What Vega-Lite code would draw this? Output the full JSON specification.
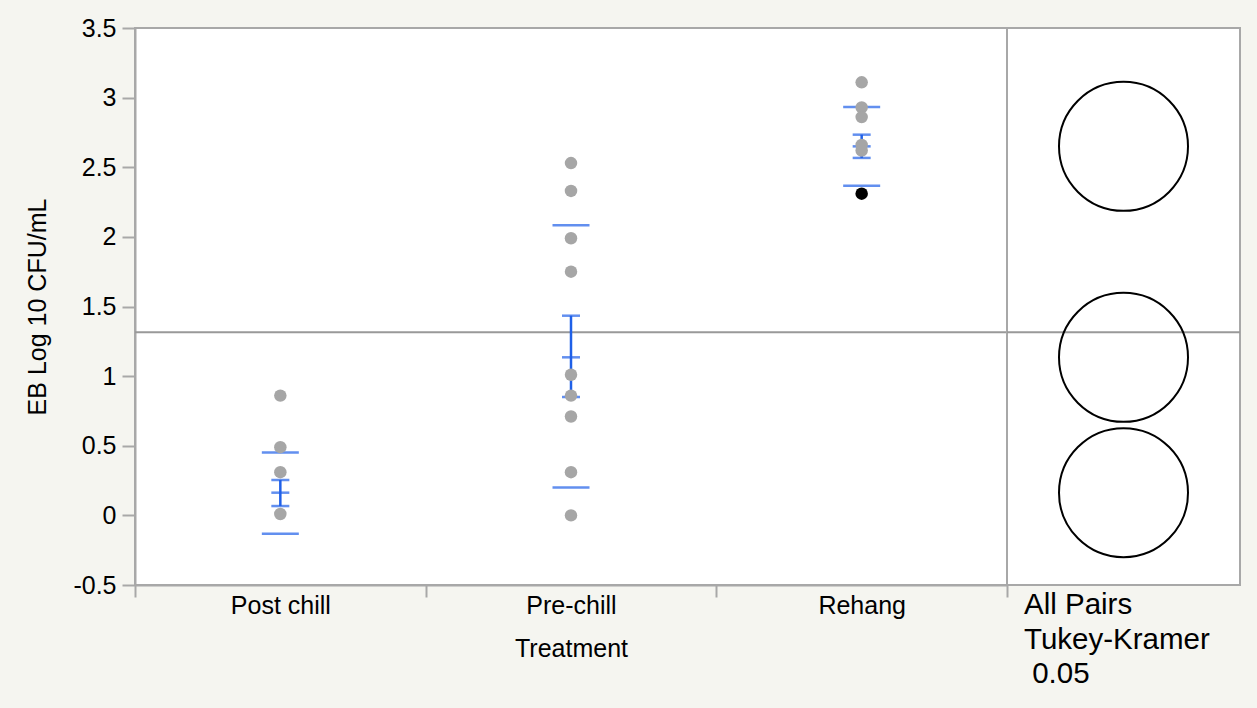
{
  "$schema": "https://vega.github.io/schema/vega-lite/v6.json",
  "background": "#f5f5f0",
  "padding": {"left": 24, "top": 15, "right": 17, "bottom": 20},
  "bounds": "flush",
  "spacing": 0,
  "datasets": {
    "points": [
      {"Treatment": "Post chill", "value": 0.86, "selected": "no"},
      {"Treatment": "Post chill", "value": 0.49, "selected": "no"},
      {"Treatment": "Post chill", "value": 0.31, "selected": "no"},
      {"Treatment": "Post chill", "value": 0.01, "selected": "no"},
      {"Treatment": "Pre-chill", "value": 2.53, "selected": "no"},
      {"Treatment": "Pre-chill", "value": 2.33, "selected": "no"},
      {"Treatment": "Pre-chill", "value": 1.99, "selected": "no"},
      {"Treatment": "Pre-chill", "value": 1.75, "selected": "no"},
      {"Treatment": "Pre-chill", "value": 1.01, "selected": "no"},
      {"Treatment": "Pre-chill", "value": 0.86, "selected": "no"},
      {"Treatment": "Pre-chill", "value": 0.71, "selected": "no"},
      {"Treatment": "Pre-chill", "value": 0.31, "selected": "no"},
      {"Treatment": "Pre-chill", "value": 0.0, "selected": "no"},
      {"Treatment": "Rehang", "value": 3.11, "selected": "no"},
      {"Treatment": "Rehang", "value": 2.93, "selected": "no"},
      {"Treatment": "Rehang", "value": 2.86, "selected": "no"},
      {"Treatment": "Rehang", "value": 2.66, "selected": "no"},
      {"Treatment": "Rehang", "value": 2.62, "selected": "no"},
      {"Treatment": "Rehang", "value": 2.31, "selected": "yes"}
    ],
    "summary": [
      {"Treatment": "Post chill", "mean": 0.163, "ciLow": 0.067, "ciHigh": 0.254, "sdLow": -0.132, "sdHigh": 0.452},
      {"Treatment": "Pre-chill", "mean": 1.135, "ciLow": 0.85, "ciHigh": 1.434, "sdLow": 0.2, "sdHigh": 2.083},
      {"Treatment": "Rehang", "mean": 2.65, "ciLow": 2.567, "ciHigh": 2.734, "sdLow": 2.368, "sdHigh": 2.933}
    ],
    "grand": [{"grandMean": 1.315}]
  },
  "resolve": {"scale": {"y": "shared"}},
  "config": {
    "font": "Liberation Sans",
    "view": {"stroke": "#a8a8a8", "strokeWidth": 2, "fill": "white"},
    "axis": {
      "grid": false,
      "domainColor": "#a8a8a8",
      "domainWidth": 2,
      "tickColor": "#a8a8a8",
      "tickWidth": 2,
      "labelFont": "Liberation Sans",
      "labelFontSize": 25,
      "labelColor": "black",
      "titleFont": "Liberation Sans",
      "titleFontSize": 25,
      "titleFontWeight": "normal",
      "titleColor": "black"
    }
  },
  "hconcat": [
    {
      "width": 872,
      "height": 557,
      "layer": [
        {
          "data": {"name": "grand"},
          "mark": {"type": "rule", "color": "#999999", "strokeWidth": 2},
          "encoding": {
            "y": {
              "field": "grandMean",
              "type": "quantitative",
              "title": "EB Log 10 CFU/mL",
              "scale": {"domain": [-0.5, 3.5], "nice": false, "zero": false},
              "axis": {
                "title": "EB Log 10 CFU/mL",
                "values": [-0.5, 0, 0.5, 1, 1.5, 2, 2.5, 3, 3.5],
                "format": "~g",
                "labelExpr": "replace(datum.label, '\u2212', '-')",
                "tickSize": 13,
                "labelPadding": 6,
                "titlePadding": 22
              }
            }
          }
        },
        {
          "data": {"name": "summary"},
          "mark": {"type": "tick", "color": "#1f60e8", "size": 37, "thickness": 2.5},
          "encoding": {
            "x": {"field": "Treatment", "type": "nominal", "title": "Treatment"},
            "y": {"field": "sdLow", "type": "quantitative", "title": "EB Log 10 CFU/mL"}
          }
        },
        {
          "data": {"name": "summary"},
          "mark": {"type": "tick", "color": "#1f60e8", "size": 37, "thickness": 2.5},
          "encoding": {
            "x": {"field": "Treatment", "type": "nominal", "title": "Treatment"},
            "y": {"field": "sdHigh", "type": "quantitative", "title": "EB Log 10 CFU/mL"}
          }
        },
        {
          "data": {"name": "summary"},
          "mark": {"type": "rule", "color": "#1f60e8", "strokeWidth": 2.5},
          "encoding": {
            "x": {"field": "Treatment", "type": "nominal", "title": "Treatment"},
            "y": {"field": "ciLow", "type": "quantitative", "title": "EB Log 10 CFU/mL"},
            "y2": {"field": "ciHigh"}
          }
        },
        {
          "data": {"name": "summary"},
          "mark": {"type": "tick", "color": "#1f60e8", "size": 18, "thickness": 2.5},
          "encoding": {
            "x": {"field": "Treatment", "type": "nominal", "title": "Treatment"},
            "y": {"field": "ciLow", "type": "quantitative", "title": "EB Log 10 CFU/mL"}
          }
        },
        {
          "data": {"name": "summary"},
          "mark": {"type": "tick", "color": "#1f60e8", "size": 18, "thickness": 2.5},
          "encoding": {
            "x": {"field": "Treatment", "type": "nominal", "title": "Treatment"},
            "y": {"field": "mean", "type": "quantitative", "title": "EB Log 10 CFU/mL"}
          }
        },
        {
          "data": {"name": "summary"},
          "mark": {"type": "tick", "color": "#1f60e8", "size": 18, "thickness": 2.5},
          "encoding": {
            "x": {"field": "Treatment", "type": "nominal", "title": "Treatment"},
            "y": {"field": "ciHigh", "type": "quantitative", "title": "EB Log 10 CFU/mL"}
          }
        },
        {
          "data": {"name": "points"},
          "mark": {"type": "point", "filled": true, "opacity": 1, "size": 156},
          "encoding": {
            "x": {
              "field": "Treatment",
              "type": "nominal",
              "title": "Treatment",
              "sort": ["Post chill", "Pre-chill", "Rehang"],
              "scale": {"paddingInner": 0, "paddingOuter": 0},
              "axis": {
                "title": "Treatment",
                "labelAngle": 0,
                "labelAlign": "center",
                "labelBaseline": "top",
                "tickBand": "extent",
                "tickExtra": false,
                "tickSize": 12,
                "labelPadding": -4,
                "titlePadding": 18
              }
            },
            "y": {"field": "value", "type": "quantitative", "title": "EB Log 10 CFU/mL"},
            "color": {
              "field": "selected",
              "type": "nominal",
              "scale": {"domain": ["no", "yes"], "range": ["#a6a6a6", "black"]},
              "legend": null
            }
          }
        }
      ]
    },
    {
      "width": 233,
      "height": 557,
      "title": {
        "text": ["All Pairs", "Tukey-Kramer", "\u200b\u00a00.05"],
        "orient": "bottom",
        "anchor": "start",
        "font": "Liberation Sans",
        "fontSize": 29.5,
        "fontWeight": "normal",
        "color": "black",
        "lineHeight": 34.5,
        "offset": 6,
        "dx": 18
      },
      "layer": [
        {
          "data": {"name": "grand"},
          "mark": {"type": "rule", "color": "#999999", "strokeWidth": 2},
          "encoding": {
            "y": {"field": "grandMean", "type": "quantitative", "axis": null}
          }
        },
        {
          "data": {"name": "summary"},
          "mark": {"type": "point", "shape": "circle", "filled": false, "color": "black", "strokeWidth": 2, "opacity": 1, "size": 16641},
          "encoding": {
            "y": {"field": "mean", "type": "quantitative", "axis": null}
          }
        }
      ]
    }
  ]
}
